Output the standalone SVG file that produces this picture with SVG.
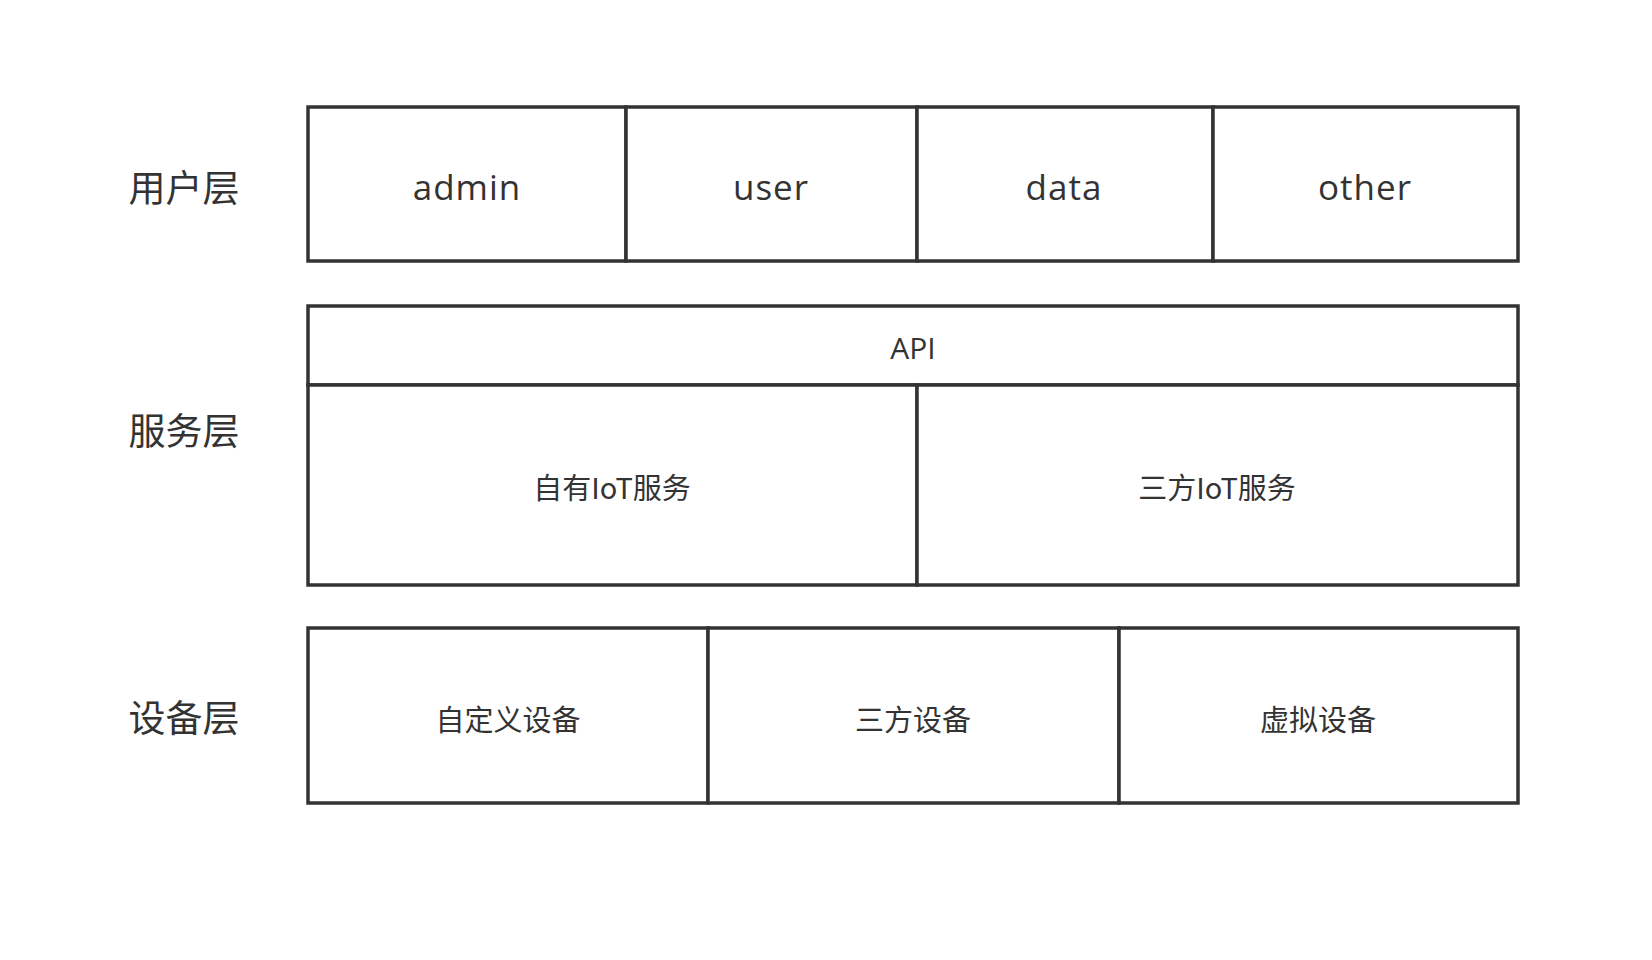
<svg xmlns="http://www.w3.org/2000/svg" width="1652" height="960" viewBox="0 0 1652 960">
<style>
.box{fill:#ffffff;stroke:#333333;stroke-width:3.5}
.lat{font-family:"Open Sans","Liberation Sans",sans-serif;fill:#333333;text-anchor:middle}
.cjk{font-family:"Noto Sans CJK SC",sans-serif;fill:#333333;text-anchor:middle;dominant-baseline:central}
.layer{font-size:37px}
.big{font-size:35px;letter-spacing:1px}
.mid{font-size:29px}
</style>
<rect width="1652" height="960" fill="#ffffff"/>
<g id="label-user-layer"><text class="cjk layer" x="184" y="186">用户层</text></g>
<g id="label-service-layer"><text class="cjk layer" x="184" y="429">服务层</text></g>
<g id="label-device-layer"><text class="cjk layer" x="184" y="716">设备层</text></g>

<g id="admin"><rect class="box" x="308" y="107" width="318" height="154"/><text class="lat big" x="467" y="200">admin</text></g>
<g id="user"><rect class="box" x="626" y="107" width="291" height="154"/><text class="lat big" x="771" y="200">user</text></g>
<g id="data"><rect class="box" x="917" y="107" width="296" height="154"/><text class="lat big" x="1064" y="200">data</text></g>
<g id="other"><rect class="box" x="1213" y="107" width="305" height="154"/><text class="lat big" x="1365" y="200">other</text></g>

<g id="api"><rect class="box" x="308" y="306" width="1210" height="79"/><text class="lat" font-size="30" x="913" y="359">API</text></g>
<g id="own-iot"><rect class="box" x="308" y="385" width="609" height="200"/><text class="cjk mid" x="612" y="486">自有IoT服务</text></g>
<g id="third-iot"><rect class="box" x="917" y="385" width="601" height="200"/><text class="cjk mid" x="1217" y="486">三方IoT服务</text></g>

<g id="custom-device"><rect class="box" x="308" y="628" width="400" height="175"/><text class="cjk mid" x="508" y="718">自定义设备</text></g>
<g id="third-device"><rect class="box" x="708" y="628" width="411" height="175"/><text class="cjk mid" x="913" y="718">三方设备</text></g>
<g id="virtual-device"><rect class="box" x="1119" y="628" width="399" height="175"/><text class="cjk mid" x="1318" y="718">虚拟设备</text></g>

<g id="connectors"></g>
</svg>
